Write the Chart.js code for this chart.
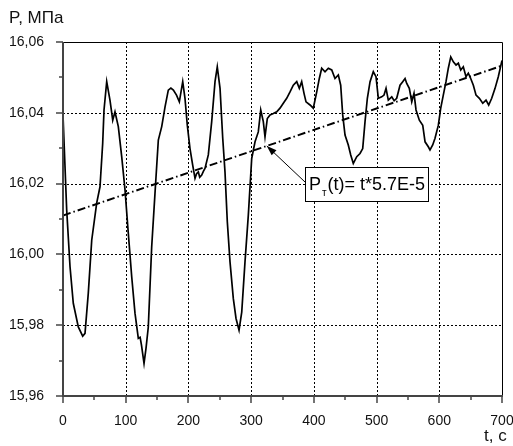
<!DOCTYPE html>
<html><head><meta charset="utf-8">
<script src="https://cdn.jsdelivr.net/npm/chart.js@4.4.0/dist/chart.umd.min.js"></script>
<style>html,body{margin:0;padding:0;background:#fff;overflow:hidden}#wrap{width:513px;height:446px;position:relative}</style>
</head><body><div id="wrap"><canvas id="c" width="513" height="446"></canvas></div>
<script>
// ---- data ----
const timeS = [0,5.9,11.2,16.4,24.4,31.4,35.1,40.3,45.8,53.7,59.0,63.3,65.4,69.7,74.9,79.3,82.9,88.2,93.6,98.9,
  104.1,109.6,114.8,120.1,123.0,125.2,129.2,132.4,136.0,141.4,146.7,152.0,157.4,162.7,167.9,172,176,181,185.5,190.9,
  194.5,198.2,202.5,206.8,210.5,213,215.8,218,221.2,224,226.4,231.7,237.1,242.4,246.0,250.4,254.7,258.3,262.0,266.3,
  271.6,275.9,280.7,285.0,290.2,295.5,300.9,306.2,311.4,315.3,319.4,322.1,325.8,330.1,335.4,340.8,346.0,351.3,356.7,362.0,
  367.2,372.7,376.8,380.6,384.3,387.5,393.9,399.1,404.6,408.7,412.5,417.8,423.1,428.5,433.7,439.0,442.8,446.0,449.7,454.9,
  458.8,462.9,468.4,473.6,477.9,481.6,485.3,489.6,494.8,499.1,502.8,508.2,511.9,515.1,518.7,524.2,528,532.1,537.4,541.7,
  545.4,548.1,552.2,556.1,559.7,562.9,568.2,573.6,577.3,582.5,585.2,589.5,593.2,598.5,602.3,606.4,610.7,614.4,618.3,622.4,
  626.7,630.4,634.2,638.3,642.6,646.3,650.1,654.3,658.6,663.9,669.3,674.5,678.8,683.6,688.9,694.1,700];
const pressure = [16.0394,16.0125,15.9965,15.9862,15.9795,15.9769,15.9777,15.989,16.004,16.0145,16.0191,16.0314,16.0408,16.0488,16.0436,16.0379,16.0403,16.0361,16.0276,16.0182,
  16.006,15.9936,15.9834,15.9763,15.9766,15.9743,15.9692,15.9735,15.9795,16.0021,16.0173,16.0323,16.0361,16.0417,16.0464,16.047,16.0464,16.045,16.0431,16.0488,
  16.0441,16.0365,16.0299,16.0252,16.0215,16.0228,16.0233,16.0218,16.0224,16.0235,16.0243,16.0281,16.0375,16.0488,16.053,16.0469,16.0328,16.0233,16.0092,15.9979,
  15.9875,15.9819,15.9786,15.9837,15.9979,16.0111,16.0271,16.0318,16.0346,16.0408,16.0375,16.0332,16.0384,16.0394,16.0398,16.0403,16.0413,16.0427,16.0441,16.0459,
  16.0478,16.0488,16.0469,16.0488,16.0455,16.0431,16.0422,16.0413,16.0459,16.0497,16.0526,16.0516,16.0526,16.0521,16.0497,16.0507,16.0478,16.0394,16.0337,16.0309,
  16.0281,16.0257,16.0276,16.0285,16.0299,16.0375,16.0441,16.0488,16.0516,16.0502,16.0441,16.0445,16.045,16.0469,16.0436,16.0445,16.0434,16.0441,16.0478,16.0488,
  16.0497,16.0483,16.0469,16.0431,16.0455,16.0408,16.0379,16.0365,16.0318,16.0304,16.0295,16.0309,16.0328,16.0365,16.0413,16.045,16.0488,16.0526,16.0558,16.0544,
  16.0535,16.054,16.0521,16.053,16.0502,16.0512,16.0497,16.0478,16.045,16.0441,16.0427,16.0436,16.0422,16.0441,16.0469,16.0502,16.0548];
const trendT = [0, 700];
const trendP = [16.011, 16.0533];
const xTicks = [0, 100, 200, 300, 400, 500, 600, 700];
const xMinorTicks = [50, 150, 250, 350, 450, 550, 650];
const yTicks = [15.96, 15.98, 16.00, 16.02, 16.04, 16.06];
const yMinorTicks = [15.97, 15.99, 16.01, 16.03, 16.05];
const yAxisTitle = 'P, МПа';
const xAxisTitle = 't, c';
const noteMain = 'P';
const noteSub = 'т';
const noteRest = '(t)= t*5.7E-5';
const noteArrowT = 325;
const noteBoxT = 386;
const noteBoxP = 16.0247;

const FONT = '"Liberation Sans", Arial, sans-serif';
const fmt = v => v.toFixed(2).replace('.', ',');

const decor = {
  id: 'decor',
  beforeDatasetsDraw(chart) {
    const {ctx, chartArea: a, scales: {x, y}} = chart;
    ctx.save();
    ctx.strokeStyle = '#000'; ctx.lineWidth = 1; ctx.setLineDash([2, 2]);
    xTicks.forEach(v => {
      if (v === xTicks[0] || v === xTicks[xTicks.length - 1]) return;
      const px = Math.round(x.getPixelForValue(v)) + 0.5;
      ctx.beginPath(); ctx.moveTo(px, a.top); ctx.lineTo(px, a.bottom); ctx.stroke();
    });
    yTicks.forEach(v => {
      if (v === yTicks[0] || v === yTicks[yTicks.length - 1]) return;
      const py = Math.round(y.getPixelForValue(v)) + 0.5;
      ctx.beginPath(); ctx.moveTo(a.left, py); ctx.lineTo(a.right, py); ctx.stroke();
    });
    ctx.restore();
  },
  afterDatasetsDraw(chart) {
    const {ctx, chartArea: a, scales: {x, y}} = chart;
    ctx.save();
    ctx.setLineDash([]);
    ctx.strokeStyle = '#000'; ctx.lineWidth = 1;
    ctx.beginPath(); ctx.moveTo(a.left, a.top + 0.5); ctx.lineTo(a.right + 0.5, a.top + 0.5); ctx.lineTo(a.right + 0.5, a.bottom); ctx.stroke();
    ctx.strokeStyle = '#444'; ctx.lineWidth = 2;
    ctx.beginPath(); ctx.moveTo(a.left, a.top); ctx.lineTo(a.left, a.bottom); ctx.lineTo(a.right + 1, a.bottom); ctx.stroke();
    ctx.lineWidth = 1.5;
    xTicks.forEach(v => { const px = Math.round(x.getPixelForValue(v));
      ctx.beginPath(); ctx.moveTo(px, a.bottom); ctx.lineTo(px, a.bottom + 7); ctx.stroke(); });
    xMinorTicks.forEach(v => { const px = Math.round(x.getPixelForValue(v));
      ctx.beginPath(); ctx.moveTo(px, a.bottom); ctx.lineTo(px, a.bottom + 4); ctx.stroke(); });
    yTicks.forEach(v => { const py = Math.round(y.getPixelForValue(v));
      ctx.beginPath(); ctx.moveTo(a.left - 7, py); ctx.lineTo(a.left, py); ctx.stroke(); });
    yMinorTicks.forEach(v => { const py = Math.round(y.getPixelForValue(v));
      ctx.beginPath(); ctx.moveTo(a.left - 4, py); ctx.lineTo(a.left, py); ctx.stroke(); });
    ctx.fillStyle = '#111';
    ctx.font = '17px ' + FONT;
    ctx.textBaseline = 'alphabetic'; ctx.textAlign = 'left';
    ctx.fillText(yAxisTitle, 9, 23);
    ctx.fillText(xAxisTitle, 484, 441);
    const slope = (trendP[1] - trendP[0]) / (trendT[1] - trendT[0]);
    const tipX = x.getPixelForValue(noteArrowT);
    const tipY = y.getPixelForValue(trendP[0] + slope * (noteArrowT - trendT[0]));
    const bx = Math.round(x.getPixelForValue(noteBoxT));
    const by = Math.round(y.getPixelForValue(noteBoxP));
    ctx.font = '18px ' + FONT;
    const wMain = ctx.measureText(noteMain).width;
    const wRest = ctx.measureText(noteRest).width;
    ctx.font = '10px ' + FONT;
    const wSub = ctx.measureText(noteSub).width;
    const bw = Math.round(4 + wMain + 1 + wSub + 1 + wRest + 3);
    const bh = 34;
    const sx = bx, sy = by + 15;
    ctx.strokeStyle = '#000'; ctx.lineWidth = 1;
    ctx.beginPath(); ctx.moveTo(sx, sy); ctx.lineTo(tipX, tipY); ctx.stroke();
    const ang = Math.atan2(tipY - sy, tipX - sx);
    const L = 10, W = 3.5;
    ctx.fillStyle = '#000';
    ctx.beginPath();
    ctx.moveTo(tipX, tipY);
    ctx.lineTo(tipX - L * Math.cos(ang) + W * Math.sin(ang), tipY - L * Math.sin(ang) - W * Math.cos(ang));
    ctx.lineTo(tipX - L * Math.cos(ang) - W * Math.sin(ang), tipY - L * Math.sin(ang) + W * Math.cos(ang));
    ctx.closePath(); ctx.fill();
    ctx.fillStyle = '#fff';
    ctx.fillRect(bx, by, bw, bh);
    ctx.strokeRect(bx + 0.5, by + 0.5, bw, bh);
    ctx.fillStyle = '#000';
    ctx.font = '18px ' + FONT;
    ctx.fillText(noteMain, bx + 4, by + 23);
    ctx.font = '10px ' + FONT;
    ctx.fillText(noteSub, bx + 4 + wMain + 1, by + 29);
    ctx.font = '18px ' + FONT;
    ctx.fillText(noteRest, bx + 4 + wMain + 1 + wSub + 1, by + 23);
    ctx.restore();
  }
};

new Chart(document.getElementById('c'), {
  type: 'line',
  data: {
    datasets: [
      {
        data: timeS.map((t, i) => ({x: t, y: pressure[i]})),
        borderColor: '#000', borderWidth: 1.7, pointRadius: 0, tension: 0, fill: false
      },
      {
        data: trendT.map((t, i) => ({x: t, y: trendP[i]})),
        borderColor: '#000', borderWidth: 2, borderDash: [8, 3, 1.5, 3], pointRadius: 0, tension: 0, fill: false
      }
    ]
  },
  options: {
    responsive: false, animation: false, devicePixelRatio: 1,
    layout: {padding: {left: 0, top: 42, right: 11, bottom: 0}},
    plugins: {legend: {display: false}, tooltip: {enabled: false}, title: {display: false}},
    scales: {
      x: {
        type: 'linear', min: 0, max: 700,
        grid: {display: false}, border: {display: false},
        afterBuildTicks: s => { s.ticks = xTicks.map(v => ({value: v})); },
        afterFit: s => { s.height = 50; s.paddingLeft = 0; s.paddingRight = 0; },
        ticks: {color: '#111', font: {family: FONT, size: 14}, padding: 9, maxRotation: 0, autoSkip: false,
          callback: v => String(v)}
      },
      y: {
        type: 'linear', min: 15.96, max: 16.06,
        grid: {display: false}, border: {display: false},
        afterBuildTicks: s => { s.ticks = yTicks.map(v => ({value: v})); },
        afterFit: s => { s.width = 63; s.paddingTop = 0; s.paddingBottom = 0; },
        ticks: {color: '#111', font: {family: FONT, size: 14}, padding: 11, autoSkip: false,
          callback: v => fmt(v)}
      }
    }
  },
  plugins: [decor]
});
</script>
</body></html>
